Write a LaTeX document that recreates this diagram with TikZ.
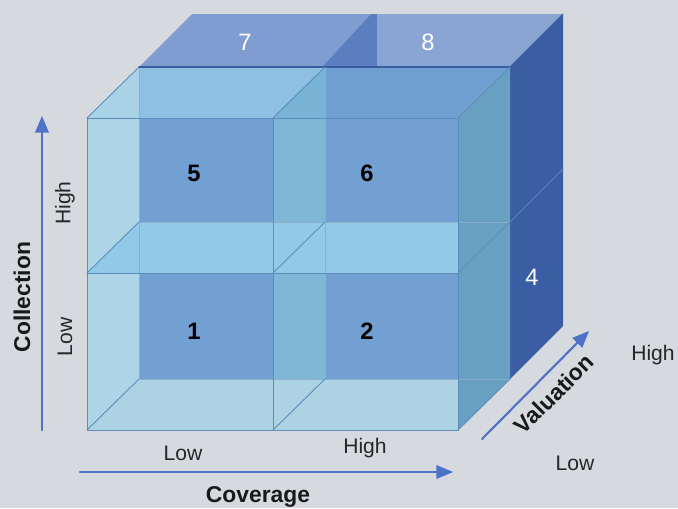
\documentclass[tikz,border=0pt]{standalone}
\usepackage{fontspec}
\setmainfont{Liberation Sans}
\usepackage{xcolor}
\usetikzlibrary{arrows}

\definecolor{bgray}{HTML}{D6DADF}
\definecolor{slabtop}{HTML}{7F9DD0}
\definecolor{slabtopb}{HTML}{8AA4D4}
\definecolor{slabdark}{HTML}{5B7EC0}
\definecolor{slabside}{HTML}{3A5DA3}
\definecolor{slabedge}{HTML}{3B5C9E}
\definecolor{backblue}{HTML}{6A9BD0}
\definecolor{topa}{HTML}{8DC0E2}
\definecolor{topb}{HTML}{6F9FD1}
\definecolor{sidelight}{HTML}{A9D2E6}
\definecolor{midside}{HTML}{79B3D5}
\definecolor{rightside}{HTML}{68A0C2}
\definecolor{floora}{HTML}{8CC6E6}
\definecolor{floorb}{HTML}{A7D0E3}
\definecolor{edgeblue}{HTML}{5A8DB9}
\definecolor{axisblue}{HTML}{4D72C6}

\tikzset{
  cubeedge/.style={draw=edgeblue,line width=0.5pt},
  backedge/.style={draw=edgeblue!70,line width=0.3pt},
  lbl/.style={font=\fontsize{12}{14}\selectfont,text=black!85},
  axlbl/.style={font=\fontsize{13}{15}\selectfont\bfseries,text=black!90},
  num/.style={font=\fontsize{13.5}{15}\selectfont\bfseries,text=black},
  wnum/.style={font=\fontsize{13.5}{15}\selectfont,text=white},
  axis/.style={->,line width=1.2pt,draw=axisblue,fill=axisblue}
}

\begin{document}
\begin{tikzpicture}[line cap=round,line join=round,>=triangle 45,x=0.02cm,y=-0.02cm]
		\fill[bgray] (0,0) rectangle (678,508);
		\useasboundingbox (0,0) rectangle (678,508);
		% back slab
		\fill[slabtop] (139,67) -- (192,14) -- (371,14) -- (322,67) -- cycle;
		\fill[slabdark] (371,14) -- (377,14) -- (377,67) -- (322,67) -- cycle;
		\fill[slabtopb] (377,14) -- (563,14) -- (510,67) -- (377,67) -- cycle;
		\fill[slabside] (510,67) -- (563,14) -- (563,326) -- (510,379) -- cycle;
		\draw[slabedge!80,line width=0.5pt] (510,222) -- (563,169);
		\draw[slabedge,line width=0.5pt] (510,67) -- (563,14);
		% front cubes
		\fill[backblue] (139,67) rectangle (510,379);
		\fill[topa] (87,118) -- (139,67) -- (325,67) -- (273,118) -- cycle;
		\fill[topb] (273,118) -- (325,67) -- (510,67) -- (458,118) -- cycle;
		\fill[midside] (273,118) -- (325,67) -- (325,379) -- (273,430) -- cycle;
		\fill[sidelight] (87,118) -- (139,67) -- (139,379) -- (87,430) -- cycle;
		\fill[floora] (87,273) -- (139,222) -- (510,222) -- (458,273) -- cycle;
		\fill[floorb] (87,430) -- (139,379) -- (510,379) -- (458,430) -- cycle;
		\fill[rightside] (458,118) -- (510,67) -- (510,379) -- (458,430) -- cycle;
		\fill[white,opacity=0.06] (87,118) rectangle (458,430);
		\draw[backedge] (139,67) -- (139,379) -- (510,379);
		\draw[backedge] (325,67) -- (325,379);
		\draw[backedge] (139,222) -- (510,222);
		\draw[slabedge,line width=1pt] (139,67) -- (510,67);
		\draw[cubeedge] (87,118) rectangle (458,430);
		\draw[cubeedge] (273,118) -- (273,430);
		\draw[cubeedge] (87,273) -- (458,273);
		\draw[cubeedge] (87,118) -- (139,67);
		\draw[cubeedge] (273,118) -- (325,67);
		\draw[cubeedge] (458,118) -- (510,67);
		\draw[cubeedge] (87,273) -- (139,222);
		\draw[cubeedge] (273,273) -- (325,222);
		\draw[cubeedge] (458,273) -- (510,222);
		\draw[cubeedge] (87,430) -- (139,379);
		\draw[cubeedge] (273,430) -- (325,379);
		\draw[cubeedge] (458,430) -- (510,379);
		% axes
		\coordinate (colstart) at (42,430);
		\coordinate (colend) at (42,116);
		\coordinate (covstart) at (80,472);
		\coordinate (covend) at (453,472);
		\coordinate (valstart) at (482,439);
		\coordinate (valend) at (589,331);
		\draw[axis] (colstart) -- (colend);
		\draw[axis] (covstart) -- (covend);
		\draw[axis] (valstart) -- (valend);
		% labels
		\node[num] (cell1) at (194,331) {1};
		\node[num] (cell2) at (367,331) {2};
		\node[num] (cell5) at (194,173) {5};
		\node[num] (cell6) at (367,173) {6};
		\node[wnum] (cell7) at (245,42) {7};
		\node[wnum] (cell8) at (428,42) {8};
		\node[wnum] (cell4) at (532,277) {4};
		\node[lbl,rotate=90] (colhigh) at (65,203) {High};
		\node[lbl,rotate=90] (collow) at (65,337) {Low};
		\node[axlbl,rotate=90] (collection) at (22,297) {Collection};
		\node[lbl] (covlow) at (183,453) {Low};
		\node[lbl] (covhigh) at (365,448) {High};
		\node[axlbl] (coverage) at (258,497) {Coverage};
		\node[axlbl,rotate=45,inner sep=1pt] (valuation) at (554,394) {Valuation};
		\node[lbl] (valhigh) at (653,355) {High};
		\node[lbl] (vallow) at (575,463) {Low};
	\end{tikzpicture}
\end{document}
